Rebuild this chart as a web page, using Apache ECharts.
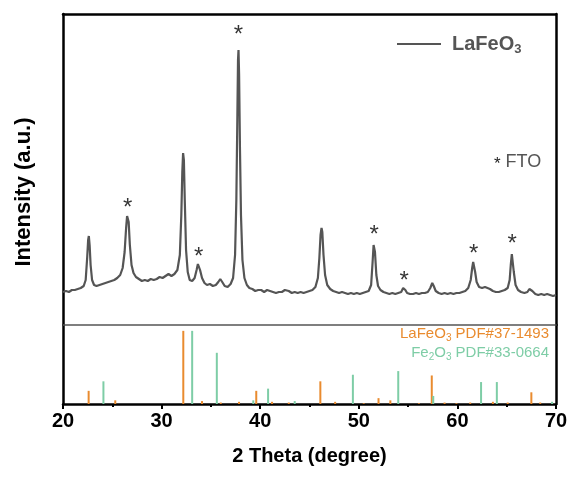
<!DOCTYPE html>
<html>
<head>
<meta charset="utf-8">
<script src="https://cdn.jsdelivr.net/npm/echarts@6/dist/echarts.min.js"></script>
<style>html,body{margin:0;padding:0;background:#fff;}#c{width:572px;height:477px;}</style>
</head>
<body>
<div id="c"></div>
<script>
// XRD pattern of the LaFeO3 film (2θ in degrees, intensity in a.u.)
var twoTheta = [20.0,20.3,20.6,20.9,21.2,21.5,21.8,22.1,22.3,22.45,22.55,22.62,22.7,22.8,22.95,23.15,23.4,23.7,24.0,24.3,24.6,24.9,25.2,25.5,25.8,26.05,26.25,26.4,26.5,26.58,26.66,26.78,26.95,27.15,27.4,27.7,28.0,28.3,28.6,28.9,29.2,29.5,29.8,30.1,30.4,30.7,31.0,31.3,31.6,31.85,32.0,32.1,32.18,32.26,32.35,32.48,32.65,32.85,33.1,33.35,33.55,33.68,33.78,33.9,34.1,34.35,34.6,34.9,35.2,35.5,35.75,35.95,36.15,36.4,36.7,37.0,37.25,37.45,37.58,37.68,37.75,37.8,37.86,37.95,38.05,38.2,38.4,38.65,38.9,39.2,39.5,39.8,40.1,40.4,40.7,41.0,41.3,41.6,41.9,42.2,42.5,42.7,42.9,43.2,43.5,43.8,44.1,44.4,44.7,45.0,45.3,45.6,45.85,46.0,46.12,46.22,46.3,46.42,46.58,46.8,47.1,47.4,47.7,48.0,48.3,48.6,48.9,49.2,49.5,49.8,50.1,50.4,50.7,51.0,51.25,51.4,51.5,51.56,51.64,51.78,51.95,52.2,52.5,52.8,53.1,53.4,53.7,54.0,54.3,54.5,54.6,54.72,54.9,55.2,55.5,55.8,56.1,56.4,56.7,57.0,57.25,57.45,57.6,57.8,58.1,58.4,58.7,59.0,59.3,59.6,59.9,60.2,60.5,60.8,61.1,61.35,61.5,61.6,61.68,61.8,61.95,62.2,62.5,62.8,63.0,63.3,63.6,63.9,64.2,64.5,64.8,65.1,65.3,65.42,65.52,65.6,65.72,65.9,66.15,66.45,66.8,67.1,67.3,67.45,67.6,67.9,68.2,68.5,68.8,69.1,69.4,69.7,70.0];
var intensity = [330,340,330,350,350,360,370,390,450,670,850,890,800,600,450,400,390,400,410,420,430,440,450,470,500,570,730,970,1090,1100,1030,800,600,520,480,460,440,450,440,460,450,460,480,470,490,510,490,510,550,700,1100,1530,1720,1650,1250,750,530,450,440,470,550,610,620,550,470,420,400,410,390,400,430,460,430,390,380,410,470,700,1250,2050,2650,2750,2500,1750,1100,650,470,400,370,360,340,350,350,330,350,340,330,320,330,330,350,370,340,320,330,320,330,320,330,340,350,380,470,670,900,970,930,700,500,400,360,340,330,320,330,320,310,320,310,320,310,320,330,340,400,630,800,820,730,500,390,350,330,320,310,320,310,320,330,370,380,350,320,310,310,320,310,320,320,330,370,420,390,340,320,310,320,310,320,310,320,320,330,340,370,450,570,630,620,530,430,380,370,380,390,360,340,330,330,340,350,370,450,610,710,690,530,400,350,330,320,330,360,370,340,310,300,310,300,310,300,290,300];

// FTO substrate peaks marked with asterisks
var ftoTheta = [26.55, 33.75, 37.8, 51.55, 54.6, 61.65, 65.55];
var ftoMarkY = [1220, 730, 2950, 950, 490, 760, 860];

// Reference patterns (relative intensity, %)
var lfoTheta = [22.6,25.3,32.2,34.1,36.0,37.85,39.6,41.2,42.9,46.1,47.6,50.5,52.0,53.2,56.1,57.4,58.7,59.9,61.3,63.6,65.1,67.5,68.4];
var lfoInt   = [18,5,100,4,2,3,18,3,2,31,3,1,8,5,1,39,2,1,2,3,2,16,2];
var feTheta = [24.1,33.1,35.6,39.3,40.8,43.5,49.4,54.0,57.55,62.4,64.0,69.6];
var feInt   = [31,100,70,5,21,4,40,45,11,30,30,3];

var xTicks = [20, 30, 40, 50, 60, 70];

var FONT = 'Liberation Sans, Arial, Helvetica, sans-serif';
var ORANGE = '#E98B2F', GREEN = '#7ECDA6', GRAY = '#555555';

var chart = echarts.init(document.getElementById('c'), null, {renderer: 'canvas'});

function stickSeries(name, xs, ys, color) {
  return {
    name: name, type: 'custom', xAxisIndex: 2, yAxisIndex: 2,
    data: xs.map(function (x, i) { return [x, ys[i]]; }),
    renderItem: function (params, api) {
      var p0 = api.coord([api.value(0), 0]);
      var p1 = api.coord([api.value(0), api.value(1)]);
      return {type: 'line', shape: {x1: p0[0], y1: p0[1], x2: p1[0], y2: p1[1]},
              style: {stroke: color, lineWidth: 2}};
    },
    z: 3
  };
}

var hidden = {show: false};
function frameAxis(grid, pos, color, width, extra) {
  var a = {gridIndex: grid, type: 'value', position: pos,
    axisLine: {show: true, onZero: false, lineStyle: {color: color, width: width}},
    axisTick: hidden, axisLabel: hidden, splitLine: hidden};
  for (var k in extra) a[k] = extra[k];
  return a;
}
var option = {
  backgroundColor: '#fff',
  animation: false,
  grid: [
    {left: 63, width: 493, top: 14, height: 311},
    {left: 63, width: 493, top: 325, height: 79}
  ],
  xAxis: [
    frameAxis(0, 'bottom', GRAY, 1.5, {min: 20, max: 70}),
    frameAxis(0, 'top', '#000', 2.5, {min: 20, max: 70}),
    {gridIndex: 1, type: 'value', min: xTicks[0], max: xTicks[xTicks.length - 1], interval: 10, position: 'bottom',
     axisLine: {show: true, onZero: false, lineStyle: {color: '#000', width: 2.5}},
     axisTick: {show: true, inside: false, length: 5, lineStyle: {color: '#000', width: 2}},
     minorTick: {show: true, splitNumber: 2, length: 3, lineStyle: {color: '#000', width: 2}},
     axisLabel: {show: true, color: '#000', fontFamily: FONT, fontWeight: 'bold', fontSize: 20, margin: 7},
     splitLine: hidden,
     name: '2 Theta (degree)', nameLocation: 'middle', nameGap: 42,
     nameTextStyle: {color: '#000', fontFamily: FONT, fontWeight: 'bold', fontSize: 20}}
  ],
  yAxis: [
    frameAxis(0, 'left', '#000', 2.5, {min: 0, max: 3110}),
    frameAxis(0, 'right', '#000', 2.5, {min: 0, max: 3110}),
    frameAxis(1, 'left', '#000', 2.5, {min: 0, max: 108}),
    frameAxis(1, 'right', '#000', 2.5, {min: 0, max: 108})
  ],
  legend: {
    data: ['LaFeO3'], left: 392, top: 29, icon: 'rect', itemWidth: 44, itemHeight: 2,
    formatter: function () { return '{a|LaFeO}{s|3}'; },
    textStyle: {color: GRAY, fontFamily: FONT, fontWeight: 'bold', fontSize: 20,
      rich: {a: {color: GRAY, fontFamily: FONT, fontWeight: 'bold', fontSize: 20, padding: [0, 0, 0, 6]},
             s: {color: GRAY, fontFamily: FONT, fontWeight: 'bold', fontSize: 13, padding: [11, 0, 0, 0]}}}
  },
  graphic: [
    {type: 'text', x: 13, y: 192, rotation: Math.PI / 2,
     style: {text: 'Intensity (a.u.)', fill: '#000', font: 'bold 22px ' + FONT, align: 'center', verticalAlign: 'top'}},
    {type: 'text', x: 494, y: 162, style: {text: '{a|*}{b| FTO}', verticalAlign: 'middle',
      rich: {a: {fill: '#222', font: '17px ' + FONT, padding: [5, 0, 0, 0]}, b: {fill: GRAY, font: '18px ' + FONT}}}},
    {type: 'text', x: 549, y: 334, style: {text: '{a|LaFeO}{s|3}{a| PDF#37-1493}', align: 'right', verticalAlign: 'middle',
      rich: {a: {fill: ORANGE, font: '15px ' + FONT}, s: {fill: ORANGE, font: '10px ' + FONT, padding: [8, 0, 0, 0]}}}},
    {type: 'text', x: 549, y: 353, style: {text: '{a|Fe}{s|2}{a|O}{s|3}{a| PDF#33-0664}', align: 'right', verticalAlign: 'middle',
      rich: {a: {fill: GREEN, font: '15px ' + FONT}, s: {fill: GREEN, font: '10px ' + FONT, padding: [8, 0, 0, 0]}}}}
  ],
  series: [
    {name: 'LaFeO3', type: 'line', xAxisIndex: 0, yAxisIndex: 0, showSymbol: false, symbol: 'none',
     data: twoTheta.map(function (x, i) { return [x, intensity[i]]; }),
     lineStyle: {color: GRAY, width: 2.2}, itemStyle: {color: GRAY}, z: 3},
    {name: 'FTO', type: 'scatter', xAxisIndex: 0, yAxisIndex: 0, symbolSize: 0, silent: true,
     data: ftoTheta.map(function (x, i) { return [x, ftoMarkY[i]]; }),
     label: {show: true, position: 'inside', formatter: '*', color: '#000', fontFamily: FONT, fontSize: 24, offset: [0, 5]}},
    stickSeries('LaFeO3 PDF', lfoTheta, lfoInt, ORANGE),
    stickSeries('Fe2O3 PDF', feTheta, feInt, GREEN)
  ]
};
chart.setOption(option);
</script>
</body>
</html>
